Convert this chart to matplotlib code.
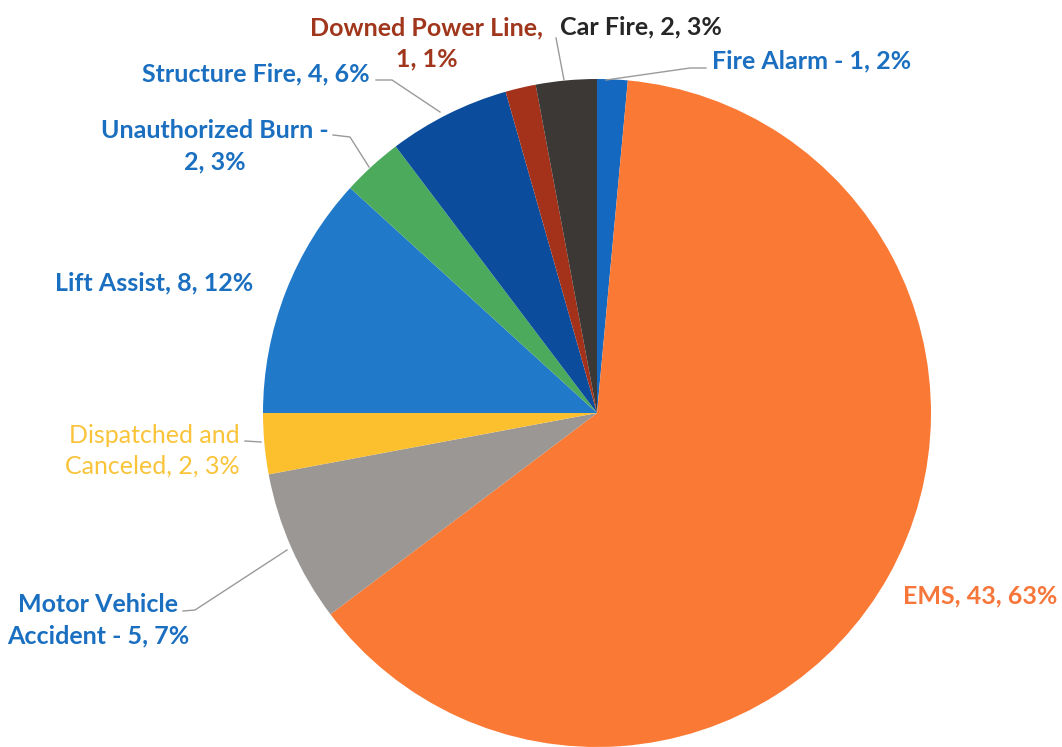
import matplotlib.pyplot as plt

# data, clockwise from 12 o'clock
categories = ['Fire Alarm', 'EMS', 'Motor Vehicle Accident', 'Dispatched and Canceled',
              'Lift Assist', 'Unauthorized Burn', 'Structure Fire', 'Downed Power Line', 'Car Fire']
counts = [1, 43, 5, 2, 8, 2, 4, 1, 2]
label_texts = ['Fire Alarm - 1, 2%', 'EMS, 43, 63%', 'Motor Vehicle\nAccident - 5, 7%',
               'Dispatched and\nCanceled, 2, 3%', 'Lift Assist, 8, 12%',
               'Unauthorized Burn -\n2, 3%', 'Structure Fire, 4, 6%',
               'Downed Power Line,\n1, 1%', 'Car Fire, 2, 3%']

colors = ['#1468c0', '#fa7a35', '#9b9794', '#fcc02e', '#2079c9',
          '#4caa5c', '#0b4d9c', '#a4321a', '#3b3836']
text_colors = ['#1a6fc0', '#f7763a', '#1a6fc0', '#f9c43a', '#1a6fc0',
               '#1a6fc0', '#1a6fc0', '#a0361c', '#262626']

W, H = 1062, 747
fig = plt.figure(figsize=(W / 100, H / 100), dpi=100)
ax = fig.add_axes([0, 0, 1, 1])


def px(x, y):
    # picture pixels (y down) -> data (y up)
    return (x, H - y)


ax.pie(counts, colors=colors, startangle=90, counterclock=False,
       center=px(597, 413), radius=334, frame=True,
       wedgeprops=dict(linewidth=0))
ax.set_xlim(0, W)
ax.set_ylim(0, H)
ax.set_aspect('equal')
ax.axis('off')

# label placement: (x, y, ha) in picture pixels
label_pos = [(712, 61, 'left'), (1057, 596, 'right'), (98, 620, 'center'),
             (240, 451, 'right'), (154, 283, 'center'), (215, 146, 'center'),
             (370, 74, 'right'), (427, 43, 'center'), (560, 27, 'left')]
line_gap = 31

# leader lines
leaders = [
    [(606, 80), (690, 68), (706, 68)],
    None,
    [(287, 550), (195, 610), (183, 611)],
    [(261, 442), (245, 441)],
    None,
    [(369, 167), (350, 137), (333, 135)],
    [(440, 112), (392, 80), (376, 80)],
    None,
    [(564, 80), (556, 38)],
]

for i, txt in enumerate(label_texts):
    x, y, ha = label_pos[i]
    weight = 'normal' if categories[i] == 'Dispatched and Canceled' else 'bold'
    lines = txt.split('\n')
    for k, line in enumerate(lines):
        yy = y + (k - (len(lines) - 1) / 2) * line_gap
        ax.text(*px(x, yy), line, ha=ha, va='center', color=text_colors[i],
                fontsize=18, fontweight=weight, family=['Lato', 'DejaVu Sans'])
    if leaders[i]:
        pts = [px(a, b) for a, b in leaders[i]]
        ax.plot([p[0] for p in pts], [p[1] for p in pts], color='#9a9a9a', lw=1)

fig.savefig('out.png', dpi=100)
